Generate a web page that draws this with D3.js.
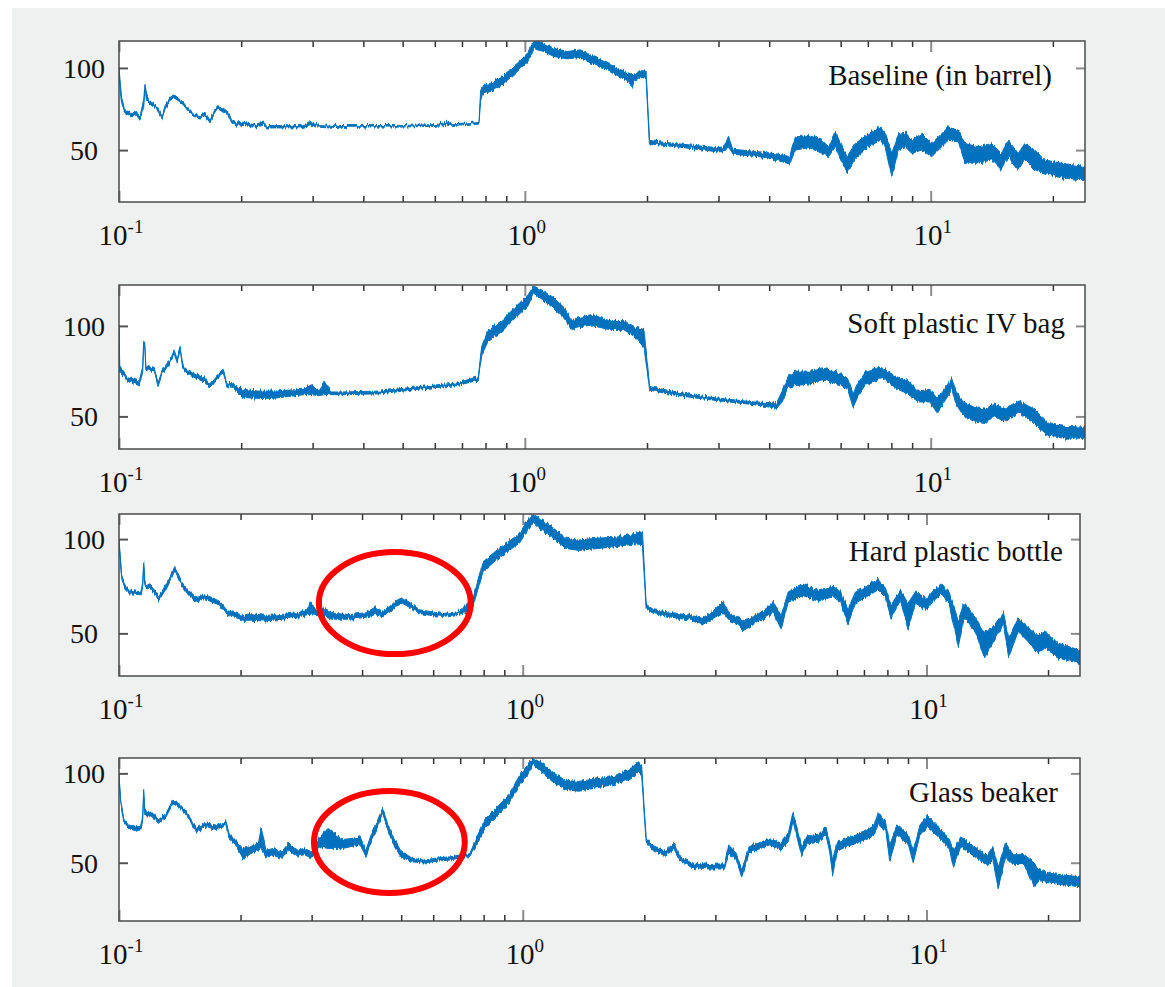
<!DOCTYPE html>
<html>
<head>
<meta charset="utf-8">
<script src="https://cdn.jsdelivr.net/npm/d3@7"></script>
<style>
  html, body { margin: 0; padding: 0; background: #ffffff; }
  svg { display: block; }
</style>
</head>
<body>
<svg id="chart" width="1165" height="987"></svg>
<script>
// Spectra: each entry is [frequency, lower edge of the noise band, upper edge of the noise band]
const baselineSpectrum = [
  [0.1, 97, 100], [0.1008, 85, 90], [0.1015, 79, 82], [0.103, 74, 76], [0.1044, 72, 74],
  [0.1065, 71, 73], [0.1085, 71, 73], [0.11, 72, 74], [0.112, 69, 71], [0.1127, 69, 71],
  [0.115, 76, 80], [0.1159, 88, 90], [0.117, 80, 84], [0.1181, 79, 81], [0.1204, 77, 79],
  [0.1225, 76, 78], [0.1239, 75, 76.5], [0.126, 71, 73], [0.1274, 68.5, 70], [0.1299, 75, 77],
  [0.1336, 80, 82], [0.1361, 82, 83.5], [0.138, 81, 83], [0.1401, 80, 81.5], [0.1441, 77.5, 79],
  [0.1482, 73.5, 75], [0.1525, 70.5, 72], [0.1585, 69.5, 71], [0.163, 71, 73], [0.1677, 66.5, 68],
  [0.1709, 71, 73], [0.1758, 75.5, 77], [0.1808, 73.5, 75.5], [0.1861, 71, 73], [0.1896, 66.5, 68],
  [0.1951, 64.5, 66.5], [0.2027, 65, 67], [0.2144, 64, 65.5], [0.227, 65, 67], [0.2314, 63.5, 65],
  [0.2449, 63.5, 65], [0.26, 63.5, 64.8], [0.2795, 63.5, 65], [0.2988, 65, 67], [0.3131, 64.5, 65.5],
  [0.338, 63.8, 65], [0.41, 64, 65], [0.495, 64, 65], [0.6, 64.5, 65.5], [0.645, 65, 67],
  [0.66, 65, 66], [0.72, 65.5, 66.5], [0.771, 66.5, 67.5], [0.778, 80, 86], [0.786, 84, 89],
  [0.83, 86, 91], [0.872, 89, 94], [0.94, 96, 101], [0.98, 100, 105], [1.014, 104, 109],
  [1.04, 109, 114], [1.052, 112, 116], [1.073, 111, 116.4], [1.114, 110, 115], [1.178, 107, 112],
  [1.271, 105.5, 110], [1.37, 106.5, 111], [1.45, 103, 108], [1.594, 98.5, 103], [1.719, 94.5, 99],
  [1.8, 92, 97], [1.836, 88, 96], [1.853, 91.5, 96], [1.924, 94.5, 98.5], [1.99, 93.5, 98],
  [2.028, 53, 56], [2.075, 53.5, 55.5], [2.458, 51.5, 53.5], [2.97, 49, 51.5], [3.1, 49, 52],
  [3.17, 52, 58], [3.263, 47.5, 50.5], [3.94, 45.5, 48.5], [4.224, 43.5, 47.5], [4.497, 41.5, 46],
  [4.555, 45, 52], [4.643, 50, 58], [5.007, 51.5, 59], [5.397, 48, 56], [5.605, 46, 52],
  [5.82, 52, 61], [6.217, 36, 46], [6.52, 45, 54], [7.029, 52, 60], [7.511, 56, 64],
  [7.727, 52, 60], [8.02, 34, 48], [8.328, 50, 60], [8.652, 52, 61], [8.98, 48, 56],
  [9.5, 50, 60], [10.06, 46, 54], [10.64, 52, 60], [11.05, 56, 64], [11.7, 55, 62],
  [12.15, 42, 54], [13.1, 42, 52], [14.12, 44, 54], [14.94, 38, 48], [15.52, 46, 56],
  [16.43, 38, 48], [17.06, 44, 54], [18.05, 38, 50], [19.1, 36, 44], [20.99, 33, 42],
  [24, 32, 40]
];

const ivBagSpectrum = [
  [0.1, 98, 100], [0.1004, 75, 78], [0.1049, 70, 72], [0.112, 67, 69.5], [0.1144, 75, 78],
  [0.115, 88, 91.5], [0.1157, 88, 91], [0.1165, 76, 78], [0.1182, 75.5, 77.5], [0.1222, 74.5, 76.5],
  [0.1248, 66.5, 68.5], [0.1276, 73, 75], [0.1347, 81, 83], [0.1368, 84.5, 86.5], [0.1392, 79.5, 81.5],
  [0.1413, 86.5, 88.5], [0.1438, 76, 78], [0.1485, 73, 75], [0.1551, 71, 73], [0.1621, 69, 71.5],
  [0.1674, 66, 68], [0.1748, 71, 73], [0.1806, 73.5, 75.5], [0.1846, 66.5, 68.5], [0.1908, 66, 68],
  [0.2014, 60.5, 65], [0.2197, 60, 64], [0.2398, 60, 64], [0.2615, 61, 64.5], [0.2852, 62, 65],
  [0.2979, 62, 67.5], [0.31, 61.5, 64], [0.3215, 62, 69.5], [0.3321, 62, 63.5], [0.3544, 62, 63.5],
  [0.4406, 62.5, 64], [0.5475, 65, 66.5], [0.6806, 67, 68.5], [0.767, 70, 72], [0.7838, 84, 89],
  [0.8097, 91, 97], [0.8836, 97.5, 103.5], [0.943, 104, 110], [1.0176, 111, 117], [1.0513, 118, 122],
  [1.098, 115, 120], [1.172, 110, 116], [1.2511, 104, 110], [1.3066, 98, 103], [1.358, 99, 104],
  [1.477, 100, 106], [1.609, 98, 103], [1.75, 98, 103], [1.866, 94, 99.5], [1.966, 88, 98],
  [2.03, 64.5, 66.5], [2.304, 62, 64], [2.673, 60, 61.5], [3.168, 58, 59.5], [3.673, 56.5, 58],
  [4.172, 54.5, 57.5], [4.307, 58, 64], [4.446, 66, 72], [4.638, 67, 75], [5.045, 68, 75],
  [5.49, 70, 76.5], [5.98, 67.5, 74], [6.24, 65, 71], [6.44, 55, 62.5], [6.65, 62, 69],
  [6.93, 68, 75], [7.39, 70, 77], [7.55, 72, 77], [8.22, 65.5, 72], [8.76, 62.5, 70],
  [9.33, 58, 64], [9.95, 58, 65], [10.37, 52, 60], [10.94, 60, 67], [11.29, 65, 71],
  [11.53, 57, 64], [12.03, 50.5, 58], [12.82, 47, 55], [13.66, 46, 54], [14.25, 50, 57],
  [15.19, 47.5, 54.5], [16.54, 52, 58.5], [17.99, 46, 54], [19.58, 39, 46], [21.32, 38, 44.5],
  [24.05, 38, 44]
];

const bottleSpectrum = [
  [0.1, 98, 100], [0.1015, 79, 81], [0.1038, 73, 75], [0.1061, 71, 73], [0.1133, 70.5, 72],
  [0.1145, 75, 78], [0.1151, 86, 88.5], [0.1158, 76, 79], [0.1166, 74.5, 76.5], [0.1197, 73.5, 75.5],
  [0.1224, 71, 73], [0.1256, 67.5, 69.5], [0.1307, 73.5, 76], [0.1351, 80, 82], [0.1371, 83.5, 85.5],
  [0.1395, 80, 82], [0.1427, 75.5, 77.5], [0.149, 70, 72.5], [0.1557, 66.5, 69], [0.1627, 68.5, 70.5],
  [0.17, 66.5, 69], [0.1776, 65, 67], [0.1856, 59.5, 62], [0.1939, 58.5, 61], [0.2026, 57, 59.5],
  [0.2117, 57, 60.5], [0.2311, 56.5, 59.5], [0.2523, 57.5, 60], [0.2754, 58.5, 61], [0.2942, 60, 63],
  [0.2974, 60, 66.8], [0.3073, 59.5, 62], [0.3211, 59.5, 63.5], [0.3429, 57.5, 60.5], [0.3745, 57.5, 60],
  [0.4088, 58.5, 61], [0.4318, 60, 64], [0.4462, 59, 61.5], [0.4662, 61, 64], [0.4872, 64.5, 67.5],
  [0.5034, 66, 69], [0.5318, 63, 65.5], [0.5556, 60.5, 62.5], [0.5934, 59.5, 61.5], [0.6339, 59, 60.5],
  [0.6918, 60, 61.5], [0.7228, 61, 65], [0.7552, 65, 70], [0.7805, 76, 81], [0.7978, 83, 88],
  [0.8245, 85.5, 90.5], [0.8614, 89, 94], [0.92, 93.5, 98.5], [0.9826, 98, 103], [1.027, 104.5, 110],
  [1.061, 109, 113.3], [1.121, 104.5, 110], [1.197, 100, 106], [1.279, 95, 100.5], [1.377, 94, 99.5],
  [1.532, 95, 100.5], [1.704, 96, 101], [1.896, 97.5, 103], [1.979, 97, 104], [2.021, 63, 65.5],
  [2.11, 60.5, 62.5], [2.347, 58.5, 61], [2.611, 57, 59.5], [2.783, 54.5, 58], [2.967, 58, 62],
  [3.129, 61, 67], [3.231, 57, 61], [3.372, 55.5, 59], [3.519, 51.5, 57], [3.751, 55, 59],
  [4.0, 58.5, 63], [4.174, 61, 67], [4.357, 52, 59], [4.546, 66.5, 72], [4.95, 70, 76],
  [5.393, 67, 73], [5.869, 69.5, 75], [6.127, 66.5, 72], [6.393, 55, 63], [6.672, 66, 72],
  [7.111, 69.5, 75], [7.584, 73, 78.6], [7.914, 69, 74], [8.172, 58, 65], [8.62, 67.5, 73],
  [8.996, 52, 66], [9.387, 66, 72], [10.0, 62.5, 68.5], [10.44, 67.5, 73], [10.89, 71, 76.5],
  [11.37, 66, 72], [11.99, 43, 57], [12.38, 58, 66], [13.2, 51, 59], [13.92, 37, 50],
  [14.68, 46, 54], [15.49, 55, 61], [15.99, 37.5, 47], [16.87, 51, 58], [17.79, 46, 54],
  [18.77, 40, 49], [19.79, 42, 51], [21.1, 37, 45], [22.49, 35.5, 43], [24, 34, 41]
];

const beakerSpectrum = [
  [0.1, 97, 100], [0.1009, 84, 86], [0.1027, 73, 75], [0.1061, 69, 71], [0.1096, 68, 70.5],
  [0.1133, 69, 71], [0.1145, 74, 77], [0.1151, 89, 91], [0.1158, 77, 80], [0.1171, 75.5, 78],
  [0.121, 76.5, 78.5], [0.1251, 72, 74], [0.1307, 75.5, 77.5], [0.1359, 83, 85], [0.1411, 81, 83],
  [0.1458, 77.5, 79.5], [0.1507, 73, 75], [0.1557, 67, 69.5], [0.1627, 70, 72], [0.1738, 68, 70.5],
  [0.1836, 71.5, 73.5], [0.1876, 63, 66], [0.1939, 60.5, 63], [0.2026, 52, 58], [0.2117, 55, 59],
  [0.2212, 57, 61], [0.2251, 58, 70], [0.2311, 53, 57], [0.2415, 54, 58], [0.2523, 52.5, 56],
  [0.2636, 57, 61], [0.2754, 53.5, 57], [0.2877, 54.5, 58], [0.3007, 52.5, 56], [0.3141, 59, 64],
  [0.3282, 58, 69.5], [0.3429, 58, 66], [0.3583, 58, 63], [0.3745, 59, 63.5], [0.3955, 60, 64.5],
  [0.4088, 53.5, 57], [0.4225, 62.5, 66.5], [0.4318, 67, 71], [0.4493, 77.5, 80.4], [0.4612, 69.5, 73],
  [0.4766, 61, 64.5], [0.498, 53.5, 57], [0.5318, 50.5, 52.5], [0.5679, 49.8, 51.5], [0.62, 51, 52.8],
  [0.6622, 51.5, 53.3], [0.7072, 53, 54.5], [0.7389, 53.5, 55], [0.7721, 60.5, 65], [0.8067, 69.5, 74.5],
  [0.8614, 76, 81], [0.92, 82.5, 87.5], [0.9826, 93.5, 99], [1.027, 99, 104.5], [1.061, 105, 108.4],
  [1.121, 100, 105.5], [1.197, 94.5, 100], [1.279, 91, 96], [1.376, 90, 95.5], [1.531, 92, 97],
  [1.704, 94, 98.5], [1.856, 97, 103], [1.937, 101, 106.5], [1.97, 99, 104], [2.021, 61.5, 64],
  [2.11, 56.5, 59.5], [2.249, 54, 56.5], [2.372, 57.5, 61], [2.45, 51.5, 53.5], [2.612, 47.5, 50],
  [2.907, 46.5, 49], [3.166, 46.5, 49.5], [3.234, 55, 60], [3.375, 52, 55.5], [3.485, 42, 46.5],
  [3.637, 55.5, 59], [3.836, 57.5, 61], [4.092, 60, 63.5], [4.363, 57, 61], [4.553, 62, 67],
  [4.671, 74, 78.5], [4.803, 62, 67], [4.906, 54, 59], [5.066, 60.5, 65], [5.399, 61.5, 66],
  [5.636, 65.5, 70], [5.758, 56, 61], [5.857, 43, 52], [6.01, 56.5, 61.5], [6.41, 59.5, 64],
  [6.98, 62, 67], [7.44, 65.5, 71], [7.6, 72, 78.5], [7.93, 67.5, 72.5], [8.11, 51, 60],
  [8.46, 65.5, 71], [9.02, 60, 65.5], [9.27, 50, 57], [9.61, 64.5, 70], [10.03, 70, 76.7],
  [10.7, 64.5, 70], [11.4, 57.5, 63], [11.65, 47.5, 57], [12.16, 59, 64.5], [12.96, 54.5, 60],
  [13.53, 51.5, 57], [14.12, 48.5, 54], [14.58, 52, 59], [15.05, 36, 48], [15.71, 53, 61],
  [16.4, 49, 54.5], [17.49, 49, 54.5], [18.45, 36.5, 50], [19.05, 40, 46], [20.3, 38.5, 44],
  [22.12, 37.5, 43], [24.08, 36.5, 42]
];

const panelTitles = ["Baseline (in barrel)", "Soft plastic IV bag", "Hard plastic bottle", "Glass beaker"];
const xDomain = [0.1, 24];
const xMajorTicks = [0.1, 1, 10];
const xTickExponents = ["-1", "0", "1"];
const xMinorTicks = [0.2, 0.3, 0.4, 0.5, 0.6, 0.7, 0.8, 0.9, 2, 3, 4, 5, 6, 7, 8, 9, 20];
const yTicks = [50, 100];
const yRanges = [[18.4, 116.4], [32, 122.6], [27.4, 113.3], [17.4, 108.6]];
// Highlighted frequency / amplitude windows (drawn as red ellipses)
const highlights = [null, null,
  { f0: 0.3126, f1: 0.7434, v0: 39.0, v1: 93.1 },
  { f0: 0.304, f1: 0.7185, v0: 33.05, v1: 90.1 }];

const spectra = [baselineSpectrum, ivBagSpectrum, bottleSpectrum, beakerSpectrum];

// Page layout of the four stacked panels
const layout = [
  { left: 119, right: 1085, top: 41, bottom: 202, titleDx: 33, titleDy: 44 },
  { left: 119, right: 1085, top: 285, bottom: 449, titleDx: 20, titleDy: 48 },
  { left: 119, right: 1080, top: 514, bottom: 676, titleDx: 17, titleDy: 47 },
  { left: 119, right: 1080, top: 758, bottom: 921, titleDx: 22, titleDy: 44 }
];

const LINE = "#0072BD";
const FONT = "'Liberation Serif', 'Times New Roman', serif";

const svg = d3.select("#chart");
svg.append("rect").attr("x", 12).attr("y", 8).attr("width", 1153).attr("height", 979).attr("fill", "#eff0f0");

// Fine vertical-only jitter texture so the band edges read as a dense measured trace
const defs = svg.append("defs");
const grain = defs.append("filter").attr("id", "trace-grain")
  .attr("color-interpolation-filters", "sRGB")
  .attr("x", "-2%").attr("y", "-25%").attr("width", "104%").attr("height", "150%");
grain.append("feTurbulence").attr("type", "fractalNoise")
  .attr("baseFrequency", "0.55 0.02").attr("numOctaves", 2).attr("seed", 7).attr("result", "noise");
// keep the red channel neutral so there is no sideways shift
grain.append("feColorMatrix").attr("in", "noise").attr("type", "matrix")
  .attr("values", "0 0 0 0 0.5  0 1 0 0 0  0 0 0 0 0  0 0 0 0 1").attr("result", "shift");
grain.append("feDisplacementMap").attr("in", "SourceGraphic").attr("in2", "shift")
  .attr("scale", 6).attr("xChannelSelector", "R").attr("yChannelSelector", "G");

function styleTicks(sel, color, width) {
  sel.select(".domain").remove();
  sel.selectAll(".tick text").remove();
  sel.selectAll(".tick line").attr("stroke", color).attr("stroke-width", width);
}

spectra.forEach((data, i) => {
  const L = layout[i];
  const x = d3.scaleLog().domain(xDomain).range([L.left, L.right]);
  const y = d3.scaleLinear().domain(yRanges[i]).range([L.bottom, L.top]);
  const g = svg.append("g");

  g.append("rect").attr("x", L.left).attr("y", L.top)
    .attr("width", L.right - L.left).attr("height", L.bottom - L.top).attr("fill", "#ffffff");

  const clipId = "plot-clip-" + i;
  defs.append("clipPath").attr("id", clipId).append("rect")
    .attr("x", L.left).attr("y", L.top).attr("width", L.right - L.left).attr("height", L.bottom - L.top);

  const band = d3.area().x(d => x(d[0])).y0(d => y(d[1])).y1(d => y(d[2]));
  g.append("g").attr("clip-path", `url(#${clipId})`)
    .append("path").datum(data)
    .attr("d", band)
    .attr("filter", "url(#trace-grain)")
    .attr("fill", LINE).attr("stroke", LINE).attr("stroke-width", 1).attr("stroke-linejoin", "round");

  // Inward-pointing ticks on all four sides
  g.append("g").attr("transform", `translate(0,${L.bottom})`)
    .call(d3.axisBottom(x).tickValues(xMinorTicks).tickSize(-6).tickFormat(() => ""))
    .call(s => styleTicks(s, "#333", 1.5));
  g.append("g").attr("transform", `translate(0,${L.top})`)
    .call(d3.axisTop(x).tickValues(xMinorTicks).tickSize(-6).tickFormat(() => ""))
    .call(s => styleTicks(s, "#333", 1.5));
  g.append("g").attr("transform", `translate(0,${L.bottom})`)
    .call(d3.axisBottom(x).tickValues(xMajorTicks).tickSize(-11).tickFormat(() => ""))
    .call(s => styleTicks(s, "#8c8c8c", 2));
  g.append("g").attr("transform", `translate(0,${L.top})`)
    .call(d3.axisTop(x).tickValues(xMajorTicks).tickSize(-11).tickFormat(() => ""))
    .call(s => styleTicks(s, "#8c8c8c", 2));
  g.append("g").attr("transform", `translate(${L.left},0)`)
    .call(d3.axisLeft(y).tickValues(yTicks).tickSize(-9).tickFormat(() => ""))
    .call(s => styleTicks(s, "#555", 2));
  g.append("g").attr("transform", `translate(${L.right},0)`)
    .call(d3.axisRight(y).tickValues(yTicks).tickSize(-9).tickFormat(() => ""))
    .call(s => styleTicks(s, "#8c8c8c", 2));

  // Frame
  g.append("rect").attr("x", L.left).attr("y", L.top)
    .attr("width", L.right - L.left).attr("height", L.bottom - L.top)
    .attr("fill", "none").attr("stroke", "#4a4a4a").attr("stroke-width", 1.5);

  // y tick labels
  g.selectAll(".ylab").data(yTicks).join("text")
    .attr("x", 84).attr("y", d => y(d)).attr("dy", "0.35em")
    .attr("text-anchor", "middle")
    .attr("font-family", FONT).attr("font-size", 28).attr("fill", "#111")
    .text(d => d);

  // x tick labels as powers of ten
  xMajorTicks.forEach((t, k) => {
    const txt = g.append("text")
      .attr("x", x(t) + 2).attr("y", L.bottom + 43)
      .attr("text-anchor", "middle")
      .attr("font-family", FONT).attr("font-size", 29).attr("fill", "#111");
    txt.append("tspan").text("10");
    txt.append("tspan").attr("dy", -12).attr("font-size", 19).text(xTickExponents[k]);
  });

  // panel title
  g.append("text")
    .attr("x", L.right - L.titleDx).attr("y", L.top + L.titleDy)
    .attr("text-anchor", "end")
    .attr("font-family", FONT).attr("font-size", 29).attr("fill", "#111")
    .text(panelTitles[i]);

  // highlight ellipse
  const h = highlights[i];
  if (h) {
    const x0 = x(h.f0), x1 = x(h.f1), yTop = y(h.v1), yBot = y(h.v0);
    g.append("ellipse")
      .attr("cx", (x0 + x1) / 2).attr("cy", (yTop + yBot) / 2)
      .attr("rx", (x1 - x0) / 2).attr("ry", (yBot - yTop) / 2)
      .attr("fill", "none").attr("stroke", "#ff0000").attr("stroke-width", 6);
  }
});
</script>
</body>
</html>
